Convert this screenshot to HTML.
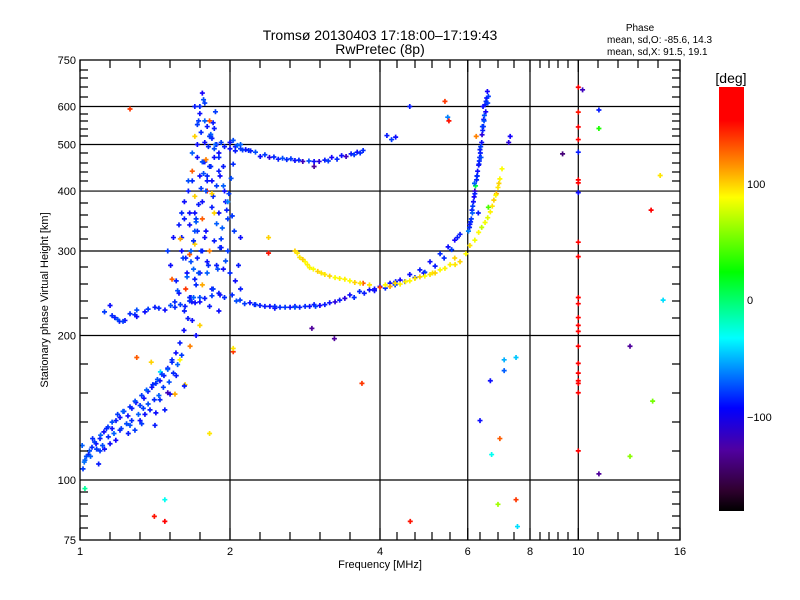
<!DOCTYPE html>
<html><head><meta charset="utf-8">
<style>
body{margin:0;background:#fff;}
svg{display:block;font-family:"Liberation Sans",sans-serif;}
</style></head>
<body>
<svg id="chart" width="800" height="600" viewBox="0 0 800 600">
<defs>
<linearGradient id="cbgrad" x1="0" y1="0" x2="0" y2="1">
<stop offset="0" stop-color="#ff0000"/>
<stop offset="0.078" stop-color="#ff0000"/>
<stop offset="0.184" stop-color="#ff9000"/>
<stop offset="0.26" stop-color="#ffff00"/>
<stop offset="0.436" stop-color="#00ff00"/>
<stop offset="0.592" stop-color="#00ffff"/>
<stop offset="0.757" stop-color="#0000ff"/>
<stop offset="0.856" stop-color="#5000a0"/>
<stop offset="0.95" stop-color="#300030"/>
<stop offset="1" stop-color="#000000"/>
</linearGradient>
</defs>
<text x="380" y="40" text-anchor="middle" font-size="14">Tromsø 20130403 17:18:00–17:19:43</text>
<text x="380" y="54" text-anchor="middle" font-size="14">RwPretec (8p)</text>
<text x="640" y="31" text-anchor="middle" font-size="10">Phase</text>
<text x="607" y="43" font-size="10">mean, sd,O: -85.6, 14.3</text>
<text x="607" y="55" font-size="10">mean, sd,X:  91.5, 19.1</text>
<g id="grid"></g>
<g id="points"></g>
<rect x="80" y="60" width="600" height="480" fill="none" stroke="#000" stroke-width="1.3"/>
<g id="axes"></g>
<text x="380" y="568" text-anchor="middle" font-size="11">Frequency [MHz]</text>
<text transform="translate(48,300) rotate(-90)" text-anchor="middle" font-size="11">Stationary phase Virtual Height [km]</text>
<rect x="719" y="87" width="25" height="424" fill="url(#cbgrad)"/>
<text x="731" y="83" text-anchor="middle" font-size="14">[deg]</text>
<text x="747" y="188" font-size="11">100</text>
<text x="747" y="304" font-size="11">0</text>
<text x="747" y="421" font-size="11">−100</text>
</svg>
<script>
const xTickVals=[1,2,4,6,8,10,16];
const yTickVals=[75,100,200,300,400,500,600,750];
const xGridVals=[2,4,6,8,10];
const yGridVals=[100,200,300,400,500,600];
const freq=[
1.014,1.023,1.04,1.057,1.077,1.097,1.117,1.138,1.16,1.181,1.203,1.225,1.248,1.271,1.295,1.32,1.344,1.369,1.394,1.42,1.447,1.474,1.5,1.53,1.558,1.587,1.617,1.647,1.677,1.71,1.741,
1.097,1.149,1.203,1.26,1.32,1.382,1.447,1.516,1.414,1.35,1.289,1.48,1.01,1.03,1.06,1.09,1.12,1.18,1.25,1.33,1.42,1.5,1.56,
1.625,1.551,1.663,1.587,1.45,1.3,1.39,
1.70,1.76,1.78,1.74,1.82,1.80,1.75,1.70,1.78,1.84,1.88,1.92,1.95,2.0,2.05,2.1,1.72,1.78,1.82,1.86,1.68,1.74,1.80,1.88,1.95,1.65,1.70,1.76,1.84,1.90,1.98,2.02,1.62,1.66,1.72,1.78,1.86,1.92,1.98,1.60,1.66,1.72,1.80,1.88,1.94,2.0,1.64,1.70,1.76,1.84,1.90,1.58,1.66,1.74,1.82,1.9,1.62,1.68,1.74,1.56,1.52,1.5,1.54,1.58,1.62,1.68,1.72,1.86,1.90,1.94,1.96,2.04,2.1,2.08,2.05,2.1,1.76,1.82,1.7,1.8,1.86,1.7,1.76,1.84,1.9,1.66,1.6,1.73,1.79,1.85,1.69,1.63,1.77,1.83,1.91,1.67,1.71,
1.149,1.175,1.231,1.289,1.35,1.414,1.481,1.551,1.625,1.702,1.78,1.91,2.02,2.095,2.193,2.297,2.405,2.52,2.64,2.76,2.89,3.03,3.17,3.32,3.48,3.64,3.81,4.0,4.19,4.39,4.59,4.81,5.04,5.28,5.48,5.65,5.79,2.25,2.46,2.7,2.95,3.4,3.9,4.3,4.9,1.2,1.3,
6.06,6.12,6.18,6.25,6.31,6.35,6.41,6.46,6.5,6.57,6.1,6.16,6.22,6.28,6.34,6.4,6.45,6.52,6.55,6.02,6.2,6.38,6.44,6.3,6.24,
2.7,2.76,2.83,2.89,3.0,3.1,3.25,3.4,3.56,3.81,4.19,4.39,4.59,4.81,5.04,5.28,5.53,5.79,6.06,6.31,6.5,6.66,6.77,6.9,6.96,7.03,3.7,4.0,5.1,5.65,6.6,6.85,
2.0,2.05,2.1,2.15,2.2,2.3,2.4,2.5,2.6,2.7,2.8,2.95,3.1,3.2,3.35,3.5,3.6,3.7,4.13,4.22,4.3,5.4,5.47,5.5,4.59,
10,10,10,10,10,10,10,10,10,10,10,10,10,10,10,10,10,10,10,10,10,10,10.2,
11.0,11.0,14.6,14.0,14.8,12.7,14.1,12.7,11.0,7.5,7.1,7.1,6.66,6.35,6.96,6.7,7.5,6.9,7.55,4.6,3.68,3.24,2.92,2.95,2.03,2.03,2.39,2.39,1.62,1.26,1.48,1.41,1.48,1.023,1.82,7.3,7.25,9.3,
1.67,1.69,1.71,1.73,1.75,1.77,1.79,1.81,1.83,1.85,1.87,1.89,1.91,1.93,1.97,1.99,2.01,2.03,1.64,1.61,1.59,1.57,1.55,1.53,1.68,1.72,1.76,1.8,1.84,1.88,1.92,1.96,1.74,1.78,1.82,1.86,1.9,1.94,1.98,2.02,1.7,1.75,1.8,1.85,1.65,1.6,1.63,1.67,1.71,1.79,1.83,1.87,1.73,1.77,1.81,1.69,
1.05,1.08,1.11,1.14,1.17,1.21,1.24,1.27,1.31,1.34,1.37,1.41,1.44,1.47,1.51,1.54,1.57,1.6,1.02,1.045,1.07,1.1,1.13,1.16,1.19,1.22,1.26,1.29,1.33,1.36,1.4,1.43,1.46,1.5,1.53,
1.12,1.16,1.19,1.22,1.26,1.3,1.37,1.44,1.52,1.59,1.66,1.74,1.84,1.95,2.06,2.14,2.24,2.35,2.46,2.58,2.7,2.83,2.97,3.1,3.25,3.55,3.72,3.9,4.1,4.29,4.49,4.7,4.92,5.16,5.38,5.57,5.72,
6.08,6.14,6.2,6.27,6.33,6.37,6.43,6.48,6.53,6.6,6.13,6.26,6.36,6.47,6.58,6.05,6.19,6.32,6.42,
2.73,2.8,2.86,2.94,3.05,3.17,3.32,3.48,3.65,4.1,4.29,4.5,4.7,4.92,5.16,5.4,5.66,5.95,6.2,6.4,6.58,6.72,6.83,6.93,
2.12,2.18,2.25,2.35,2.45,2.55,2.65,2.75,2.88,3.02,3.15,3.28,3.42,3.55,3.65,2.03,2.07
];
const height=[
105.5,110,113,117,119,122,126,129,128,133,135,139,136,141,145,143,148,153,156,159,161,165,171,178,184,193,205,217,235,255,270,
115,119,127,130,133,140,147,151,130,137,127,140,118,112,122,108,116,121,125,131,138,152,165,
158,151,190,178,168,180,176,
600,640,610,580,560,545,530,520,505,515,500,505,495,490,485,500,470,460,450,470,440,430,420,410,400,400,390,380,370,360,350,355,350,340,330,320,315,305,300,300,295,290,285,280,275,270,270,262,255,250,245,245,240,235,230,225,225,215,210,260,280,300,320,340,380,420,500,540,480,450,380,330,320,280,260,250,350,300,310,400,360,360,300,420,440,360,320,270,330,390,275,290,460,520,430,240,200,
231,218,215,221,224,229,226,229,230,234,239,243,243,237,234,231,230,229,229,229,230,231,234,237,243,247,249,253,257,261,268,274,285,296,306,316,325,232,228,230,232,239,250,259,270,214,219,
341,365,389,422,453,488,524,564,605,645,350,380,410,440,470,505,545,585,625,330,400,470,600,360,520,
300,291,285,277,272,268,264,262,258,255,253,256,260,265,268,274,281,285,308,328,344,362,383,407,424,445,257,252,270,290,370,395,
505,495,490,488,485,472,470,466,465,463,461,461,464,470,474,478,482,486,522,512,518,615,570,560,600,
658,584,544,512,482,422,416,397,313,292,240,233,218,210,204,190,175,167,161,159,152,115,650,
590,540,431,365,237,190,146,112,103,180,178,169,161,133,122,113,91,89,80,82,159,197,207,450,185,188,297,320,157,593,91,84,82,96,125,520,505,478,
285,315,345,375,405,435,465,495,525,555,585,275,305,335,365,395,425,455,265,290,318,248,235,262,480,550,460,430,395,342,318,286,600,560,520,490,470,410,380,355,330,300,270,250,420,360,250,300,350,400,450,500,560,620,280,240,
112,116,118,123,125,128,131,133,137,141,144,147,150,156,160,167,174,182,109,115,120,124,128,132,137,139,142,146,150,154,158,162,166,170,176,
224,220,216,214,222,226,227,228,231,232,236,240,242,240,236,233,232,230,230,229,229,230,230,232,235,240,245,248,251,255,259,264,271,279,290,302,320,
345,372,395,430,462,495,535,575,615,630,360,430,480,560,610,336,415,455,545,
297,288,281,275,270,266,263,260,257,255,257,259,263,266,270,276,281,296,316,336,352,372,392,415,
487,486,482,476,471,468,467,464,462,461,462,466,472,476,480,510,498
];
const phase=[
-80,-70,-90,-85,-95,-90,-95,-80,-95,-90,-95,-85,-95,-90,-95,-80,-95,-90,-95,-85,-95,-90,-95,-85,-95,-90,-95,-90,-95,-85,-95,
-80,-95,-90,-75,-95,-90,-85,-95,-90,-95,-80,-90,-70,-75,-85,-90,-95,-100,-90,-80,-95,-120,-90,
100,110,120,90,-40,130,100,
-90,-100,-80,-95,130,-90,-85,100,-95,-90,-95,-80,-90,-95,-90,-70,-95,-90,-85,-95,130,-95,-90,-80,-95,-90,100,-95,-90,-95,-80,-95,-90,-95,-85,-95,-90,-95,-80,-95,130,-90,-95,-90,-95,-85,-95,-90,110,-95,-90,-95,-85,-95,-90,-95,-90,-95,100,-90,-95,-80,-95,-90,-95,-85,-95,-90,-95,-90,-95,-80,-95,-90,-95,-90,130,120,100,140,100,-95,-90,-95,-90,-95,-90,-75,-95,-85,-70,-90,-95,-80,-95,-90,-95,
-95,-90,-95,-85,-95,-90,-95,-85,-90,-95,-90,-95,-85,-80,-95,-90,-95,-85,-95,-90,-95,-100,-95,-90,-95,-85,-95,-90,-95,-100,-95,-90,-95,-85,-95,-100,-90,-80,-95,-95,-90,-110,-95,-90,-100,-90,-95,
-95,-90,-100,-85,-95,-90,-110,-95,-90,-100,-80,-95,10,-95,-90,-95,-85,-100,-95,-60,-120,-75,-95,-90,120,
100,95,90,92,100,95,88,92,100,95,110,92,90,100,95,88,92,100,95,90,85,92,100,95,90,88,130,140,95,100,40,110,
-95,-90,-80,-95,-90,-95,-110,-90,-85,-95,-120,-95,-90,-100,-95,-90,-95,-85,-90,-80,-95,140,-60,150,-90,
165,150,170,165,-90,160,165,-95,170,165,160,170,165,160,165,160,165,170,160,165,165,160,-120,
-90,30,95,160,-40,-130,50,55,-130,-45,-50,-70,-95,-95,130,-30,140,60,-40,150,140,-130,-130,-130,140,95,150,100,-90,140,-30,150,160,-10,95,-100,-110,-140,
-75,-85,-70,-90,-80,-75,120,-85,-70,-90,-80,-75,-85,-70,-90,-80,-75,-85,-70,-80,110,-75,-85,130,-70,-80,-75,-85,100,-70,-80,-75,-85,-70,-80,-75,-85,-70,-60,-80,-75,-85,-70,-80,-75,-85,140,-70,-80,-75,-85,-70,-80,-75,-85,-70,
-70,-80,-75,-85,-70,-80,-75,-85,-70,-80,-75,-85,-70,-80,-75,-85,-70,-80,-65,-75,-80,-70,-85,-75,-80,-70,-85,-75,-80,-70,-85,-75,-80,-70,-85,
-80,-85,-75,-80,-85,-75,-80,-85,-75,-80,-85,-75,-80,-85,-75,-80,-85,-90,-85,-80,-75,-85,-80,-90,-110,-85,-90,-95,-85,-80,-90,-85,-80,-90,-85,-80,-90,
-85,-80,-90,-75,-85,-80,-90,-75,-85,-80,-70,-85,-90,-75,-80,-85,-70,-90,-80,
95,100,92,88,96,100,92,88,96,90,98,92,95,88,100,92,95,90,85,70,80,95,90,100,
-80,-85,-75,-80,-85,-75,-80,-85,-75,-110,-80,-85,-120,-80,-85,-75,-70
];

const X0=80,X1=680,Y0=540,Y1=60;
function xScale(f){return X0+(X1-X0)*Math.log2(f)/4;}
function yScale(h){return Y0-(Y0-Y1)*Math.log10(h/75);}
const cStops=[[-182,[0,0,0]],[-160,[48,0,48]],[-129,[80,0,160]],[-100,[20,0,255]],[-85,[0,40,255]],[-60,[0,130,255]],[-33,[0,255,255]],[24,[0,255,0]],[60,[160,255,0]],[89,[255,255,0]],[116,[255,144,0]],[155,[255,0,0]],[184,[255,0,0]]];
function phaseColor(v){
  for(let i=1;i<cStops.length;i++){
    if(v<=cStops[i][0]){const a=cStops[i-1],b=cStops[i];const t=Math.max(0,(v-a[0])/(b[0]-a[0]));
      const c=a[1].map((q,k)=>Math.round(q+(b[1][k]-q)*t));return `rgb(${c[0]},${c[1]},${c[2]})`;}
  }
  return 'rgb(255,0,0)';
}
const NS='http://www.w3.org/2000/svg';
const grid=document.getElementById('grid');
xGridVals.forEach(v=>{
  const l=document.createElementNS(NS,'line');
  l.setAttribute('x1',xScale(v));l.setAttribute('x2',xScale(v));l.setAttribute('y1',Y1);l.setAttribute('y2',Y0);
  l.setAttribute('stroke','#000');l.setAttribute('stroke-width','1.2');
  
  
  grid.appendChild(l);
});
yGridVals.forEach(v=>{
  const l=document.createElementNS(NS,'line');
  l.setAttribute('x1',X0);l.setAttribute('x2',X1);l.setAttribute('y1',yScale(v));l.setAttribute('y2',yScale(v));
  l.setAttribute('stroke','#000');l.setAttribute('stroke-width','1.2');
  
  
  grid.appendChild(l);
});
const axes=document.getElementById('axes');
let tk='';
const xMinor=[110,140,170,200,260,290,320,350,397,415,432,450,480,498,514,540,549,558,568,598,618,638,658];
xMinor.forEach(x=>{tk+=`M${x} ${Y0}v-8M${x} ${Y1}v8`;});
xTickVals.forEach(v=>{const x=xScale(v);tk+=`M${x} ${Y0}v-12M${x} ${Y1}v12`;});
const yMinor=[70,78,87,97,114,121,129,136,153,163,172,181,203,215,227,239,267,284,301,318,364,393,422,451,492,504,516,528];
yMinor.forEach(y=>{tk+=`M${X0} ${y}h8M${X1} ${y}h-8`;});
const tp=document.createElementNS(NS,'path');
tp.setAttribute('d',tk);tp.setAttribute('stroke','#000');tp.setAttribute('stroke-width','1.2');tp.setAttribute('fill','none');


axes.appendChild(tp);
xTickVals.forEach(v=>{
  const t=document.createElementNS(NS,'text');
  t.setAttribute('x',xScale(v));t.setAttribute('y',555);t.setAttribute('text-anchor','middle');t.setAttribute('font-size','11');
  t.textContent=v;
  
  
  axes.appendChild(t);
});
yTickVals.forEach(v=>{
  const t=document.createElementNS(NS,'text');
  t.setAttribute('x',76);t.setAttribute('y',yScale(v)+4);t.setAttribute('text-anchor','end');t.setAttribute('font-size','11');
  t.textContent=v;
  
  
  axes.appendChild(t);
});
const pts=document.getElementById('points');
for(let i=0;i<freq.length&&i<height.length&&i<phase.length;i++){
  const x=xScale(freq[i]),y=yScale(height[i]);
  const p=document.createElementNS(NS,'path');
  p.setAttribute('d',`M${x-2.5} ${y}h5M${x} ${y-2.5}v5`);
  p.setAttribute('stroke',phaseColor(phase[i]));
  p.setAttribute('stroke-width','1.7');
  
  
  pts.appendChild(p);
}
</script>
</body></html>
